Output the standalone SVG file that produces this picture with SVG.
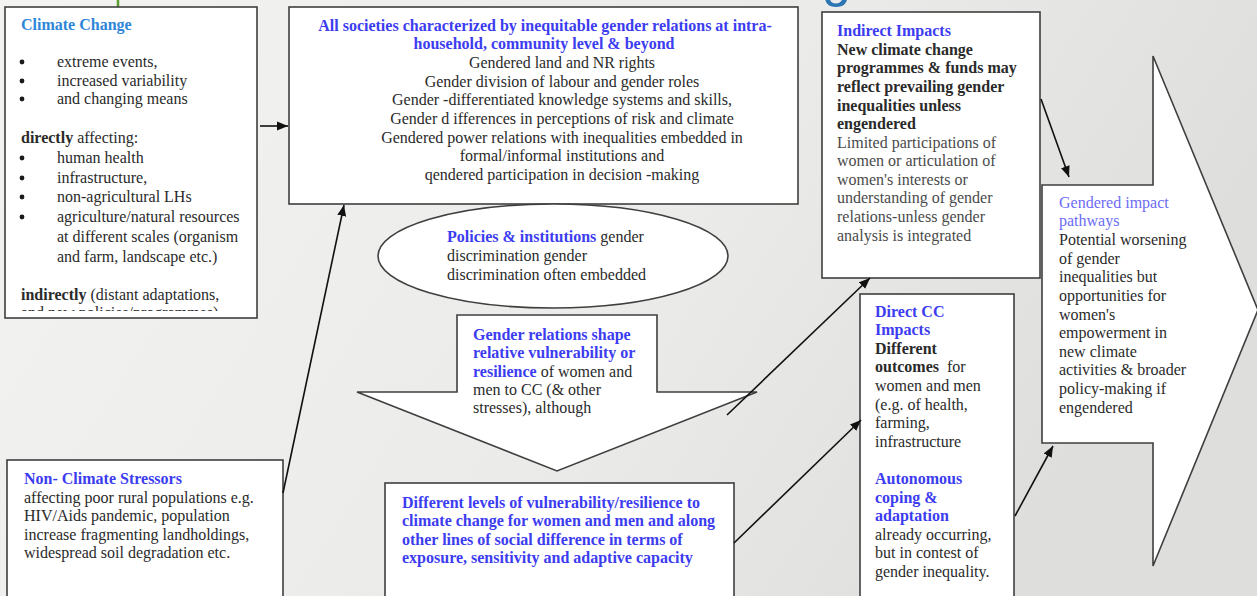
<svg xmlns="http://www.w3.org/2000/svg" width="1257" height="596" viewBox="0 0 1257 596">
<defs>
<linearGradient id="bg" x1="0" y1="0" x2="1" y2="0.3">
<stop offset="0" stop-color="#f3f3f2"/>
<stop offset="0.6" stop-color="#ebebe9"/>
<stop offset="1" stop-color="#dededc"/>
</linearGradient>
<marker id="ah" markerUnits="userSpaceOnUse" markerWidth="13" markerHeight="11" refX="11" refY="5" orient="auto">
<path d="M0,0.5 L11,5 L0,9.5 z" fill="#111"/>
</marker>
<clipPath id="ccclip"><rect x="5" y="7" width="252" height="304"/></clipPath>
</defs>
<style>
text{font-family:"Liberation Serif","Times New Roman",serif;font-size:16px;fill:#2a2a2a}
.b{font-weight:bold}
.blue{fill:#3c3cf0;font-weight:bold}
.sky{fill:#2f86d8;font-weight:bold}
.lblue{fill:#6c6cf6}
.grey{fill:#4a4a4a}
.box{fill:#ffffff;stroke:#3f3f3f;stroke-width:1.6}
.mid{text-anchor:middle}
.dot{fill:#1a1a1a}
.conn line{stroke:#111;stroke-width:1.6;marker-end:url(#ah)}
</style>
<rect x="0" y="0" width="1257" height="596" fill="url(#bg)"/>
<line x1="118" y1="0" x2="118" y2="7" stroke="#5a9e2f" stroke-width="2.5"/>
<text x="822" y="-4" style="font-family:'Liberation Sans',Arial,sans-serif;font-size:52px;fill:#2d74b5">g</text>

<g id="pathways">
<polygon class="box" points="1042,185 1153,185 1153,56 1258,310 1153,566 1153,443 1042,443"/>
<text x="1059" y="208" class="lblue">Gendered impact</text>
<text x="1059" y="226" class="lblue">pathways</text>
<text x="1059" y="245">Potential worsening</text>
<text x="1059" y="264">of gender</text>
<text x="1059" y="282">inequalities but</text>
<text x="1059" y="301">opportunities for</text>
<text x="1059" y="320">women's</text>
<text x="1059" y="338">empowerment in</text>
<text x="1059" y="357">new climate</text>
<text x="1059" y="375">activities &amp; broader</text>
<text x="1059" y="394">policy-making if</text>
<text x="1059" y="413">engendered</text>
</g>

<g id="climate-change">
<rect class="box" x="5" y="7" width="252" height="311"/>
<text x="21" y="30" class="sky">Climate Change</text>
<circle class="dot" cx="22" cy="62" r="2.4"/><text x="57" y="67">extreme events,</text>
<circle class="dot" cx="22" cy="81" r="2.4"/><text x="57" y="86">increased variability</text>
<circle class="dot" cx="22" cy="99" r="2.4"/><text x="57" y="104">and changing means</text>
<text x="21" y="143"><tspan class="b">directly</tspan> affecting:</text>
<circle class="dot" cx="22" cy="158" r="2.4"/><text x="57" y="163">human health</text>
<circle class="dot" cx="22" cy="178" r="2.4"/><text x="57" y="183">infrastructure,</text>
<circle class="dot" cx="22" cy="197" r="2.4"/><text x="57" y="202">non-agricultural LHs</text>
<circle class="dot" cx="22" cy="217" r="2.4"/><text x="57" y="222">agriculture/natural resources</text>
<text x="57" y="242">at different scales (organism</text>
<text x="57" y="262">and farm, landscape etc.)</text>
<text x="21" y="300"><tspan class="b">indirectly</tspan> (distant adaptations,</text>
<g clip-path="url(#ccclip)"><text x="21" y="318">and new policies/programmes)</text></g>
</g>

<g id="gender-relations">
<rect class="box" x="289" y="7" width="509" height="197"/>
<text x="545" y="30.5" class="blue mid">All societies characterized by inequitable gender relations at intra-</text>
<text x="544" y="49" class="blue mid">household, community level &amp; beyond</text>
<text x="562" y="67.5" class="mid" textLength="186" lengthAdjust="spacingAndGlyphs">Gendered land and NR rights</text>
<text x="562" y="86.5" class="mid">Gender division of labour and gender roles</text>
<text x="562" y="105" class="mid">Gender -differentiated knowledge systems and skills,</text>
<text x="562" y="124" class="mid">Gender d ifferences in perceptions of risk and climate</text>
<text x="562" y="142.5" class="mid">Gendered power relations with inequalities embedded in</text>
<text x="562" y="161" class="mid">formal/informal institutions and</text>
<text x="562" y="180" class="mid">qendered participation in decision -making</text>
</g>

<g id="policies">
<ellipse class="box" cx="553" cy="256" rx="175" ry="52"/>
<text x="447" y="242"><tspan class="blue">Policies &amp; institutions</tspan> gender</text>
<text x="447" y="261">discrimination gender</text>
<text x="447" y="280">discrimination often embedded</text>
</g>

<g id="shape-vulnerability">
<polygon class="box" points="457,315 657,315 657,392 757,392 557,471 357,392 457,392"/>
<text x="473" y="340" class="blue">Gender relations shape</text>
<text x="473" y="358" class="blue">relative vulnerability or</text>
<text x="473" y="377"><tspan class="blue">resilience</tspan> of women and</text>
<text x="473" y="395">men to CC (&amp; other</text>
<text x="473" y="413">stresses), although</text>
</g>

<g id="non-climate">
<rect class="box" x="7" y="460" width="276" height="145"/>
<text x="24" y="484" class="blue">Non- Climate Stressors</text>
<text x="24" y="503">affecting poor rural populations e.g.</text>
<text x="24" y="521">HIV/Aids pandemic, population</text>
<text x="24" y="540">increase fragmenting landholdings,</text>
<text x="24" y="558">widespread soil degradation etc.</text>
</g>

<g id="levels">
<rect class="box" x="385" y="483" width="349" height="122"/>
<text x="402" y="508" class="blue">Different levels of vulnerability/resilience to</text>
<text x="402" y="526" class="blue">climate change for women and men and along</text>
<text x="402" y="545" class="blue">other lines of social difference in terms of</text>
<text x="402" y="563" class="blue">exposure, sensitivity and adaptive capacity</text>
</g>

<g id="indirect">
<rect class="box" x="822" y="12" width="218" height="266"/>
<text x="837" y="36" class="blue">Indirect Impacts</text>
<text x="837" y="55" class="b">New climate change</text>
<text x="837" y="73" class="b">programmes &amp; funds may</text>
<text x="837" y="92" class="b">reflect prevailing gender</text>
<text x="837" y="111" class="b">inequalities unless</text>
<text x="837" y="129" class="b">engendered</text>
<text x="837" y="148" class="grey">Limited participations of</text>
<text x="837" y="166" class="grey">women or articulation of</text>
<text x="837" y="185" class="grey">women's interests or</text>
<text x="837" y="203" class="grey">understanding of gender</text>
<text x="837" y="222" class="grey">relations-unless gender</text>
<text x="837" y="241" class="grey">analysis is integrated</text>
</g>

<g id="direct">
<rect class="box" x="860" y="294" width="154" height="312"/>
<text x="875" y="317" class="blue">Direct CC</text>
<text x="875" y="335" class="blue">Impacts</text>
<text x="875" y="354" class="b">Different</text>
<text x="875" y="372" class="b">outcomes</text><text x="947" y="372">for</text>
<text x="875" y="391">women and men</text>
<text x="875" y="410">(e.g. of health,</text>
<text x="875" y="428">farming,</text>
<text x="875" y="447">infrastructure</text>
<text x="875" y="484" class="blue">Autonomous</text>
<text x="875" y="503" class="blue">coping &amp;</text>
<text x="875" y="521" class="blue">adaptation</text>
<text x="875" y="540">already occurring,</text>
<text x="875" y="558">but in contest of</text>
<text x="875" y="577">gender inequality.</text>
</g>

<g id="connectors" class="conn">
<line x1="260" y1="126" x2="288" y2="126"/>
<line x1="283" y1="493" x2="344" y2="205"/>
<line x1="727" y1="415" x2="870" y2="278"/>
<line x1="734" y1="543" x2="861" y2="420"/>
<line x1="1041" y1="99" x2="1069" y2="177"/>
<line x1="1015" y1="516" x2="1053" y2="446"/>
</g>
</svg>
